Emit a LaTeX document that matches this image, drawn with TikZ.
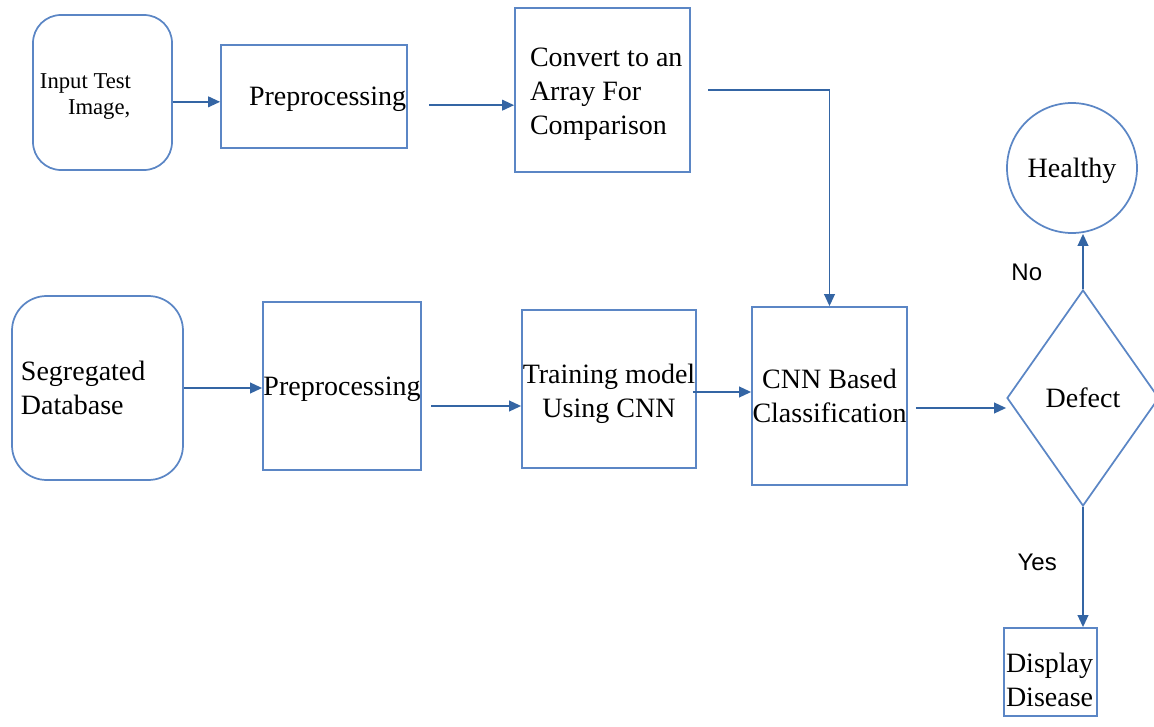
\documentclass[tikz,border=0pt]{standalone}
\usepackage{fontspec}
\setmainfont{Liberation Serif}
\newfontfamily\lblfont{Liberation Sans}
\usetikzlibrary{arrows.meta,shapes.geometric}

\definecolor{boxblue}{RGB}{91,134,197}
\definecolor{lineblue}{RGB}{52,101,164}

\tikzset{
  blk/.style={draw=boxblue, line width=1.3pt, inner sep=0pt, font=\fontsize{21}{25.5}\selectfont},
  oneline/.style={text depth=0pt},
  arr/.style={draw=lineblue, line width=1.3pt, -{Triangle[length=9pt,width=8pt]}},
  lbl/.style={inner sep=0pt, font=\lblfont\fontsize{18}{22}\selectfont},
}

\begin{document}
\begin{tikzpicture}[x=0.75pt,y=0.75pt,yscale=-1,xscale=1]
  \useasboundingbox (0,0) rectangle (1154,727);

  %Shape: Rounded Rect
  \node[blk, rounded corners=21pt, minimum width=104.25pt, minimum height=116.25pt, inner xsep=5.25pt, text width=93.75pt, align=flush left, font=\fontsize{17}{19.5}\selectfont] (inp) at (102.5,92.5) {\rule{0pt}{17.5pt}Input Test\\\hspace*{21pt}Image,};
  %Shape: Rectangle
  \node[blk, oneline, minimum width=139.5pt, minimum height=77.25pt, inner xsep=21pt, text width=97.5pt, align=flush left] (prep1) at (314,96.5) {\mbox{Preprocessing}};
  %Shape: Rectangle
  \node[blk, minimum width=131.25pt, minimum height=123pt, inner xsep=11.25pt, text width=108.75pt, align=flush left] (conv) at (602.5,90) {\rule{0pt}{20.5pt}\mbox{Convert to an}\\Array For\\Comparison};

  %Shape: Rounded Rect
  \node[blk, rounded corners=26pt, minimum width=128.25pt, minimum height=138pt, inner xsep=6.75pt, text width=114.75pt, align=flush left] (seg) at (97.5,388) {Segregated\\Database};
  %Shape: Rectangle
  \node[blk, oneline, minimum width=118.5pt, minimum height=126pt] (prep2) at (342,386) {Preprocessing};
  %Shape: Rectangle
  \node[blk, minimum width=130.5pt, minimum height=118.5pt, align=center] (train) at (609,389) {\rule{0pt}{21.5pt}Training model\\Using CNN};
  %Shape: Rectangle
  \node[blk, minimum width=116.25pt, minimum height=133.5pt, align=center] (cnn) at (829.5,396) {CNN Based\\Classification};

  %Shape: Diamond
  \node[blk, diamond, minimum width=114pt, minimum height=162pt] (defect) at (1083,398) {Defect};
  %Shape: Circle
  \node[blk, oneline, circle, minimum size=97.5pt] (healthy) at (1072,168) {Healthy};
  %Shape: Rectangle
  \node[blk, minimum width=69.75pt, minimum height=66pt, inner xsep=1.5pt, text width=66.75pt, align=flush left] (disp) at (1050.5,672) {\rule{0pt}{27pt}Display\\Disease};

  %Connectors
  \draw[arr] ([yshift=7pt]inp.east) -- ([yshift=7pt]inp.east -| prep1.west);
  \draw[arr, shorten <=16pt] ([yshift=6.5pt]prep1.east) -- ([yshift=6.5pt]prep1.east -| conv.west);
  \draw[arr, shorten <=13pt] (conv.east) -| (cnn.north);
  \draw[arr] (seg.east) -- (seg.east -| prep2.west);
  \draw[arr, shorten <=7pt] ([yshift=15pt]prep2.east) -- ([yshift=15pt]prep2.east -| train.west);
  \draw[arr, shorten <=-3pt] ([yshift=2.25pt]train.east) -- ([yshift=2.25pt]train.east -| cnn.west);
  \draw[arr, shorten <=6pt] ([yshift=9pt]cnn.east) -- ([yshift=9pt]cnn.east -| defect.west);
  \draw[arr] (defect.north) -- node[lbl, pos=0.3, left=30pt] (no) {No} (defect.north |- healthy.south);
  \draw[arr] (defect.south) -- node[lbl, pos=0.46, left=19pt] (yes) {Yes} (disp.north -| defect.south);
\end{tikzpicture}
\end{document}
